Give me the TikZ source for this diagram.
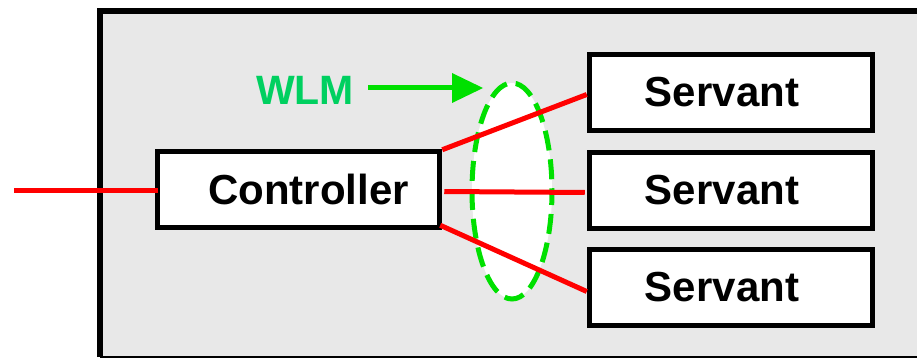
\documentclass[tikz,border=0pt]{standalone}
\usepackage{fontspec}
\setmainfont{Liberation Sans}
\begin{document}
\begin{tikzpicture}[x=1pt,y=-1pt,
  boxnode/.style={draw=black,line width=5.5pt,fill=white,inner sep=0pt,font=\fontsize{42}{48}\selectfont\bfseries},
  redline/.style={draw=red,line width=5pt},
  frame/.style={line width=6pt,draw=black}]
\useasboundingbox (0,0) rectangle (917,358);
\definecolor{bggray}{RGB}{232,232,232}
\definecolor{wlmgreen}{RGB}{0,208,96}
\definecolor{arrgreen}{RGB}{0,224,0}
% outer panel
\fill[bggray] (99.5,11) rectangle (917,357);
\draw[frame] (99.5,357) -- (99.5,11) -- (917,11);
\draw[line width=1.5pt] (99.5,357.2) -- (917,357.2);
% ellipse
\fill[white] (512,191) ellipse [x radius=40, y radius=108];
\draw[arrgreen,line width=5pt,dash pattern=on 20pt off 9pt,dash phase=6pt] (512,191) ellipse [x radius=40, y radius=108];
% boxes
\node[boxnode,minimum width=282pt,minimum height=76pt] (ctrl) at (298.5,189.5) {\hspace*{20pt}Controller};
\node[boxnode,minimum width=283pt,minimum height=76pt] (s1) at (731,92.5) {Servant\hspace*{18pt}};
\node[boxnode,minimum width=283pt,minimum height=76pt] (s2) at (731,190.5) {Servant\hspace*{18pt}};
\node[boxnode,minimum width=283pt,minimum height=76pt] (s3) at (731,287.5) {Servant\hspace*{18pt}};
% connectors
\coordinate (in) at (14,190);
\draw[redline] (in) -- ([xshift=3pt]ctrl.west |- in);
\draw[redline] ([yshift=-1pt]ctrl.north east) -- ([yshift=-2pt]s1.west);
\draw[redline] ([xshift=2pt,yshift=-2pt]ctrl.east) -- ([xshift=-2pt,yshift=-2pt]s2.west);
\draw[redline] ([xshift=-2pt,yshift=5pt]ctrl.south east) -- ([yshift=-4pt]s3.west);
% WLM
\node[text=wlmgreen,font=\fontsize{41}{48}\selectfont\bfseries,inner sep=0pt] (wlm) at (305,90) {WLM};
\coordinate (wlmtip) at (483,88);
\draw[arrgreen,line width=5pt] (368,88) -- (454,88);
\fill[arrgreen] (452,73) -- (wlmtip) -- (452,103) -- cycle;
\end{tikzpicture}
\end{document}
